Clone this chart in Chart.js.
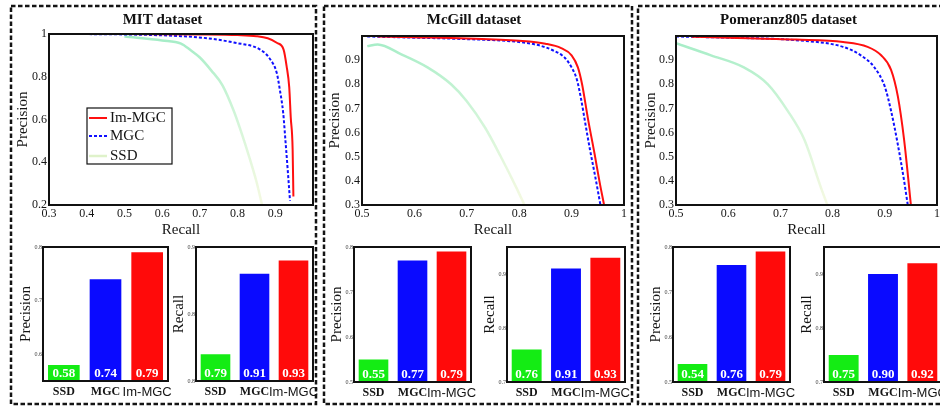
<!DOCTYPE html>
<html>
<head>
<meta charset="utf-8">
<script src="https://cdn.jsdelivr.net/npm/chart.js@4"></script>
<style>
  body { margin: 0; background: #fff; }
  #page { position: relative; width: 940px; height: 408px; overflow: hidden; background: #fff; }
  canvas, svg { position: absolute; }
</style>
</head>
<body>
<div id="page">
  <svg width="940" height="408" style="left:0;top:0">
    <g fill="none" stroke="#141414" stroke-width="2.5" stroke-dasharray="4.5 2.5">
      <rect x="11" y="6" width="305" height="398"/>
      <rect x="324" y="6" width="308" height="398"/>
      <rect x="638" y="6" width="330" height="398"/>
    </g>
  </svg>
  <canvas id="prMit"></canvas>
  <canvas id="prMcgill"></canvas>
  <canvas id="prPom"></canvas>
  <canvas id="barMitP"></canvas>
  <canvas id="barMitR"></canvas>
  <canvas id="barMcgillP"></canvas>
  <canvas id="barMcgillR"></canvas>
  <canvas id="barPomP"></canvas>
  <canvas id="barPomR"></canvas>
</div>
<script>
// methods in PR plots (legend order) and bar categories
const methods = ['Im-MGC', 'MGC', 'SSD'];
const barLabels = ['SSD', 'MGC', 'Im-MGC'];

// PR curves, [recall, precision]
const mitImMGC = [[0.3, 1.0], [0.5, 1.0], [0.7, 0.998], [0.8, 0.995], [0.85, 0.99], [0.88, 0.98], [0.905, 0.958], [0.922, 0.927], [0.93, 0.85], [0.937, 0.75], [0.941, 0.61], [0.946, 0.46], [0.948, 0.24]];
const mitMGC = [[0.3, 1.0], [0.5, 0.998], [0.65, 0.99], [0.72, 0.98], [0.79, 0.96], [0.86, 0.927], [0.886, 0.883], [0.904, 0.817], [0.912, 0.74], [0.921, 0.63], [0.927, 0.5], [0.934, 0.34], [0.939, 0.22]];
const mitSSD = [[0.5, 0.988], [0.6, 0.97], [0.65, 0.955], [0.675, 0.925], [0.7, 0.89], [0.73, 0.83], [0.76, 0.76], [0.79, 0.64], [0.81, 0.54], [0.83, 0.43], [0.85, 0.31], [0.865, 0.2]];

const mcgillImMGC = [[0.53, 0.998], [0.6, 0.995], [0.7, 0.99], [0.8, 0.98], [0.85, 0.968], [0.88, 0.95], [0.9, 0.92], [0.912, 0.87], [0.92, 0.8], [0.931, 0.66], [0.944, 0.51], [0.953, 0.4], [0.962, 0.3]];
const mcgillMGC = [[0.51, 0.998], [0.6, 0.993], [0.7, 0.987], [0.8, 0.975], [0.84, 0.96], [0.865, 0.94], [0.887, 0.91], [0.9, 0.87], [0.91, 0.82], [0.918, 0.74], [0.926, 0.64], [0.935, 0.53], [0.944, 0.43], [0.95, 0.36], [0.955, 0.3]];
const mcgillSSD = [[0.51, 0.958], [0.53, 0.965], [0.575, 0.924], [0.625, 0.87], [0.67, 0.8], [0.7, 0.73], [0.735, 0.62], [0.765, 0.5], [0.795, 0.37], [0.81, 0.3]];

const pomImMGC = [[0.53, 0.997], [0.6, 0.993], [0.73, 0.985], [0.82, 0.975], [0.867, 0.955], [0.893, 0.92], [0.912, 0.86], [0.925, 0.75], [0.937, 0.57], [0.95, 0.3]];
const pomMGC = [[0.5, 0.998], [0.6, 0.993], [0.727, 0.983], [0.82, 0.955], [0.854, 0.92], [0.88, 0.87], [0.9, 0.79], [0.912, 0.69], [0.925, 0.55], [0.937, 0.4], [0.944, 0.3]];
const pomSSD = [[0.5, 0.97], [0.567, 0.92], [0.63, 0.87], [0.676, 0.8], [0.714, 0.69], [0.746, 0.57], [0.778, 0.37], [0.79, 0.3]];

// bar values (SSD, MGC, Im-MGC)
const mitPrecision = [0.58, 0.74, 0.79];
const mitRecall = [0.79, 0.91, 0.93];
const mcgillPrecision = [0.55, 0.77, 0.79];
const mcgillRecall = [0.76, 0.91, 0.93];
const pomPrecision = [0.54, 0.76, 0.79];
const pomRecall = [0.75, 0.90, 0.92];

const SERIF = "'Liberation Serif', 'Times New Roman', serif";
const SANS = "'Liberation Sans', Arial, sans-serif";
Chart.defaults.font.family = SERIF;
Chart.defaults.color = '#151515';

function ssdStroke(c) {
  const a = c.chart.chartArea;
  if (!a) return 'rgba(150,230,170,0.5)';
  const g = c.chart.ctx.createLinearGradient(0, a.top, 0, a.bottom);
  g.addColorStop(0, 'rgba(100,224,160,0.6)');
  g.addColorStop(0.5, 'rgba(150,232,165,0.42)');
  g.addColorStop(1, 'rgba(225,238,170,0.35)');
  return g;
}
const lineColors = ['#ff1010', '#1010ff', ssdStroke];
const barColors = ['#14ec14', '#0a0aff', '#ff0a0a'];

// black box around the plot area
Chart.register({
  id: 'frame',
  defaults: { width: 2 },
  afterDraw(chart, args, opts) {
    const a = chart.chartArea, ctx = chart.ctx;
    ctx.save();
    ctx.strokeStyle = '#111';
    ctx.lineWidth = opts.width;
    ctx.strokeRect(a.left, a.top, a.right - a.left, a.bottom - a.top);
    ctx.restore();
  }
});

// boxed legend inside the plot
Chart.register({
  id: 'boxLegend',
  afterDraw(chart, args, opts) {
    if (!opts || opts.x === undefined) return;
    const a = chart.chartArea, ctx = chart.ctx;
    const x = a.left + opts.x, y = a.top + opts.y;
    ctx.save();
    ctx.fillStyle = '#fff';
    ctx.fillRect(x, y, opts.w, opts.h);
    ctx.strokeStyle = '#111';
    ctx.lineWidth = 1.2;
    ctx.strokeRect(x, y, opts.w, opts.h);
    const rows = [10, 28, 48];
    chart.data.datasets.forEach((ds, i) => {
      const ly = y + rows[i];
      ctx.strokeStyle = i === 2 ? 'rgba(210,236,180,0.7)' : ds.borderColor;
      ctx.lineWidth = ds.borderWidth;
      ctx.setLineDash(ds.borderDash || []);
      ctx.beginPath();
      ctx.moveTo(x + 2, ly);
      ctx.lineTo(x + 20, ly);
      ctx.stroke();
      ctx.setLineDash([]);
      ctx.fillStyle = '#151515';
      ctx.font = '15px ' + SERIF;
      ctx.textBaseline = 'middle';
      ctx.fillText(ds.label, x + 23, ly);
    });
    ctx.restore();
  }
});

// white values at the foot of each bar
Chart.register({
  id: 'barValues',
  afterDatasetsDraw(chart, args, opts) {
    if (!opts || !opts.show) return;
    const ctx = chart.ctx, meta = chart.getDatasetMeta(0);
    ctx.save();
    ctx.fillStyle = '#fff';
    ctx.font = 'bold 13px ' + SERIF;
    ctx.textAlign = 'center';
    ctx.textBaseline = 'middle';
    meta.data.forEach((bar, i) => {
      ctx.fillText(chart.data.datasets[0].data[i].toFixed(2), bar.x, chart.chartArea.bottom - 7);
    });
    ctx.restore();
  }
});

function place(id, left, top, w, h) {
  const c = document.getElementById(id);
  c.width = w;
  c.height = h;
  c.style.left = left + 'px';
  c.style.top = top + 'px';
  return c;
}

const fmt = v => +v.toFixed(1);

function prChart(id, box, title, curves, xMin, yMin, yStep, hideTop, legend) {
  const cv = place(id, box.left, 8, box.w, 231);
  return new Chart(cv, {
    type: 'line',
    data: {
      datasets: curves.map((pts, i) => ({
        label: methods[i],
        data: pts.map(p => ({ x: p[0], y: p[1] })),
        borderColor: lineColors[i],
        borderWidth: [2, 2, 2.5][i],
        borderDash: i === 1 ? [3, 2] : [],
        pointRadius: 0,
        cubicInterpolationMode: 'monotone',
        fill: false
      }))
    },
    options: {
      responsive: false,
      animation: false,
      devicePixelRatio: 1,
      layout: { padding: { top: 0, left: 0, bottom: 0, right: box.pr } },
      plugins: {
        legend: { display: false },
        tooltip: { enabled: false },
        title: { display: true, text: title, color: '#111', font: { size: 15, weight: 'bold' }, padding: { top: 3, bottom: box.tb } },
        boxLegend: legend || {}
      },
      scales: {
        x: {
          type: 'linear', min: xMin, max: 1,
          afterFit: s => { s.height = 34; s.paddingLeft = 0; s.paddingRight = 0; },
          grid: { display: false, drawTicks: false },
          border: { display: false },
          ticks: { stepSize: 0.1, padding: 2, font: { size: 12 }, callback: v => (hideTop.x && v > 0.999) ? '' : fmt(v) },
          title: { display: true, text: 'Recall', font: { size: 15 }, padding: 0 }
        },
        y: {
          type: 'linear', min: yMin, max: 1,
          afterFit: s => { s.width = box.yw; s.paddingTop = 0; s.paddingBottom = 0; },
          grid: { display: false, drawTicks: false },
          border: { display: false },
          ticks: { stepSize: yStep, padding: 2, font: { size: 12 }, callback: v => (hideTop.y && v > 0.999) ? '' : fmt(v) },
          title: { display: true, text: 'Precision', font: { size: 15 }, padding: { top: 2, bottom: 0 } }
        }
      }
    }
  });
}

function barChart(id, plotLeft, plotRight, values, yMin, yMax, axisTitle, xh) {
  const left = plotLeft - 27;
  const cv = place(id, left, 240, plotRight - left + 14, 163);
  return new Chart(cv, {
    type: 'bar',
    data: {
      labels: barLabels,
      datasets: [{ data: values, backgroundColor: barColors, barPercentage: 0.76, categoryPercentage: 1 }]
    },
    options: {
      responsive: false,
      animation: false,
      devicePixelRatio: 1,
      layout: { padding: { top: 7, left: 0, bottom: 0, right: 14 } },
      plugins: {
        legend: { display: false },
        tooltip: { enabled: false },
        barValues: { show: true },
        boxLegend: {}
      },
      scales: {
        x: {
          afterFit: s => { s.height = xh; s.paddingLeft = 0; s.paddingRight = 0; },
          grid: { display: false, drawTicks: false },
          border: { display: false },
          ticks: {
            autoSkip: false, maxRotation: 0, padding: 4, color: '#151515',
            font: c => barLabels[c.index] === 'Im-MGC'
              ? { family: SANS, size: 13 }
              : { family: SERIF, size: 12, weight: 'bold' }
          }
        },
        y: {
          min: yMin, max: yMax,
          afterFit: s => { s.width = 27; s.paddingTop = 0; s.paddingBottom = 0; },
          grid: { display: false, drawTicks: false },
          border: { display: false },
          ticks: { stepSize: 0.1, includeBounds: false, padding: 1, font: { size: 6 }, color: '#444', callback: fmt },
          title: { display: true, text: axisTitle, font: { size: 15 }, padding: { top: 1, bottom: 0 } }
        }
      }
    }
  });
}

prChart('prMit', { left: 12, w: 302, pr: 1, yw: 37, tb: 5 }, 'MIT dataset',
  [mitImMGC, mitMGC, mitSSD], 0.3, 0.2, 0.2, { x: true, y: false },
  { x: 38, y: 74, w: 85, h: 56 });
prChart('prMcgill', { left: 324, w: 318, pr: 18, yw: 38, tb: 7 }, 'McGill dataset',
  [mcgillImMGC, mcgillMGC, mcgillSSD], 0.5, 0.3, 0.1, { x: false, y: true });
prChart('prPom', { left: 640, w: 320, pr: 23, yw: 36, tb: 7 }, 'Pomeranz805 dataset',
  [pomImMGC, pomMGC, pomSSD], 0.5, 0.3, 0.1, { x: false, y: true });

barChart('barMitP', 43, 168, mitPrecision, 0.55, 0.8, 'Precision', 22);
barChart('barMitR', 196, 313, mitRecall, 0.75, 0.95, 'Recall', 22);
barChart('barMcgillP', 354, 471, mcgillPrecision, 0.5, 0.8, 'Precision', 21);
barChart('barMcgillR', 507, 625, mcgillRecall, 0.7, 0.95, 'Recall', 21);
barChart('barPomP', 673, 790, pomPrecision, 0.5, 0.8, 'Precision', 21);
barChart('barPomR', 824, 942, pomRecall, 0.7, 0.95, 'Recall', 21);
</script>
</body>
</html>
